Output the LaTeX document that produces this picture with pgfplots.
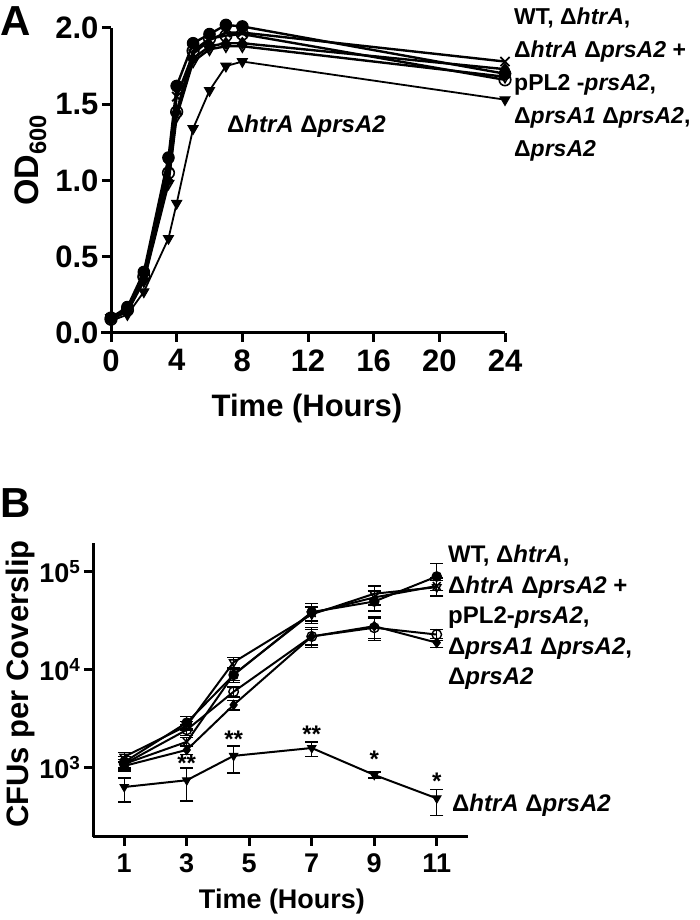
\documentclass[border=0pt]{standalone}
\usepackage{fontspec}
\setmainfont{Liberation Sans}
\usepackage{pgfplots}
\pgfplotsset{compat=1.18}
\newcommand\fsz[1]{\fontsize{#1}{#1}\selectfont\bfseries}
\newcommand\g[1]{\textit{#1}}
\begin{document}
\begin{tikzpicture}[x=1pt,y=1pt]
\path[use as bounding box] (0,0) rectangle (700,920);
% ---------------- Panel A ----------------
\begin{axis}[
 at={(111pt,587pt)}, anchor=south west, scale only axis,
 width=394pt, height=305pt,
 xmin=0, xmax=24, ymin=0, ymax=2,
 axis x line*=bottom, axis y line*=left,
 axis line style={line width=3pt, -},
 xtick={0,4,...,24}, ytick={0,0.5,1,1.5,2},
 yticklabel style={/pgf/number format/.cd, fixed, fixed zerofill, precision=1},
 xticklabel style={yshift=-4pt},
 /pgf/number format/assume math mode=true,
 tick style={line width=3pt, black}, major tick length=9pt, tick align=outside,
 ticklabel style={font=\fsz{31}},
 clip=false,
 every axis plot/.append style={line width=2.4pt, black, mark size=5.8pt},
]
\draw[line width=3pt] (axis cs:-0.6,0) -- (axis cs:0,0);
\addplot[mark=*, mark options={solid, fill=black, line width=1pt}] coordinates {
 (0,0.10) (1,0.17) (2,0.40) (3.5,1.15) (4,1.62) (5,1.90) (6,1.96) (7,2.02) (8,2.01) (24,1.70)};
\addplot[mark=o, mark options={solid, fill=white, line width=1.6pt}] coordinates {
 (0,0.09) (1,0.15) (2,0.37) (3.5,1.05) (4,1.45) (5,1.85) (6,1.93) (7,1.95) (8,1.96) (24,1.66)};
\addplot[mark=x, mark options={solid, line width=1.8pt}, mark size=6.5pt] coordinates {
 (0,0.10) (1,0.16) (2,0.38) (3.5,1.10) (4,1.55) (5,1.83) (6,1.92) (7,1.97) (8,1.97) (24,1.78)};
\addplot[mark=diamond*, mark options={solid, fill=black, line width=1pt}] coordinates {
 (0,0.09) (1,0.14) (2,0.35) (3.5,1.00) (4,1.45) (5,1.80) (6,1.88) (7,1.90) (8,1.90) (24,1.73)};
\addplot[mark=triangle, mark options={solid, fill=white, rotate=180, line width=1.6pt}] coordinates {
 (0,0.10) (1,0.14) (2,0.34) (3.5,0.98) (4,1.42) (5,1.78) (6,1.86) (7,1.88) (8,1.88) (24,1.68)};
\addplot[line width=1.8pt, mark=triangle*, mark options={solid, fill=black, rotate=180, line width=1pt}] coordinates {
 (0,0.08) (1,0.12) (2,0.27) (3.5,0.62) (4,0.85) (5,1.34) (6,1.59) (7,1.75) (8,1.78) (24,1.53)};
\end{axis}
% ---------------- Panel B ----------------
\begin{axis}[
 at={(93pt,83pt)}, anchor=south west, scale only axis,
 width=375pt, height=294pt,
 xmin=0, xmax=12, ymode=log, ymin=197.7, ymax=197700,
 axis x line*=bottom, axis y line*=left,
 axis line style={line width=3pt, -},
 xtick={1,3,5,7,9,11}, ytick={1000,10000,100000},
 yticklabels={10\textsuperscript{3},10\textsuperscript{4},10\textsuperscript{5}},
 yminorticks=false,
 xticklabel style={yshift=-4pt},
 /pgf/number format/assume math mode=true,
 tick style={line width=3pt, black}, major tick length=9pt, tick align=outside,
 ticklabel style={font=\fsz{27}},
 clip=false,
 every axis plot/.append style={line width=2pt, black, mark size=4.8pt},
]
\addplot[mark=*, mark options={solid, fill=black, line width=1pt},
 error bars/.cd, y dir=both, y explicit, error bar style={line width=1.3pt},
 error mark options={rotate=90, mark size=6.5pt, line width=1.3pt}] coordinates {
 (1,1150) +- (0,150) (3,2900) += (0,450) -= (0,400) (4.5,8900) +- (0,1500)
 (7,39000) += (0,9000) -= (0,8000) (9,50000) += (0,15000) -= (0,10000)
 (11,90000) += (0,33000) -= (0,25000)};
\addplot[mark=o, mark options={solid, fill=white, line width=1.4pt},
 error bars/.cd, y dir=both, y explicit, error bar style={line width=1.3pt},
 error mark options={rotate=90, mark size=6.5pt, line width=1.3pt}] coordinates {
 (1,1100) +- (0,120) (3,2450) +- (0,300) (4.5,6000) +- (0,700)
 (7,22000) +- (0,4000) (9,27000) += (0,7000) -= (0,6000) (11,23000) +- (0,3000)};
\addplot[mark=x, mark options={solid, line width=1.5pt}, mark size=5.5pt,
 error bars/.cd, y dir=both, y explicit, error bar style={line width=1.3pt},
 error mark options={rotate=90, mark size=6.5pt, line width=1.3pt}] coordinates {
 (1,1100) +- (0,120) (3,1850) +- (0,200) (4.5,9000) +- (0,1200)
 (7,38000) +- (0,6000) (9,55000) +- (0,9000) (11,72000) +- (0,15000)};
\addplot[mark=diamond*, mark options={solid, fill=black, line width=1pt},
 error bars/.cd, y dir=both, y explicit, error bar style={line width=1.3pt},
 error mark options={rotate=90, mark size=6.5pt, line width=1.3pt}] coordinates {
 (1,1050) +- (0,120) (3,1530) +- (0,150) (4.5,4400) +- (0,500)
 (7,22000) +- (0,5000) (9,28000) += (0,7000) -= (0,8000) (11,19000) +- (0,2000)};
\addplot[mark=triangle, mark options={solid, fill=white, rotate=180, line width=1.4pt},
 error bars/.cd, y dir=both, y explicit, error bar style={line width=1.3pt},
 error mark options={rotate=90, mark size=6.5pt, line width=1.3pt}] coordinates {
 (1,1300) +- (0,150) (3,2700) +- (0,300) (4.5,12000) +- (0,1500)
 (7,37000) +- (0,7000) (9,60000) += (0,12000) -= (0,8000) (11,70000) +- (0,12000)};
\addplot[mark=triangle*, mark options={solid, fill=black, rotate=180, line width=1pt},
 error bars/.cd, y dir=both, y explicit, error bar style={line width=1.3pt},
 error mark options={rotate=90, mark size=6.5pt, line width=1.3pt}] coordinates {
 (1,640) += (0,150) -= (0,190) (3,750) += (0,250) -= (0,290) (4.5,1330) += (0,350) -= (0,440)
 (7,1600) += (0,240) -= (0,300) (9,850) +- (0,60) (11,490) += (0,110) -= (0,160)};
\node[font=\fsz{24}] at (axis cs:3,1120) {**};
\node[font=\fsz{24}] at (axis cs:4.5,1980) {**};
\node[font=\fsz{24}] at (axis cs:7,2220) {**};
\node[font=\fsz{24}] at (axis cs:9,1230) {*};
\node[font=\fsz{24}] at (axis cs:11,735) {*};
\end{axis}
% ---------------- Texts ----------------
\node[anchor=base west, inner sep=0pt] at (0,884) {\fsz{42}A};
\node[anchor=base west, inner sep=0pt] at (0,402) {\fsz{42}B};
\node[rotate=90, anchor=base, inner sep=0pt] at (38,760) {\fsz{34}OD\textsubscript{600}};
\node[anchor=base, inner sep=0pt] at (307,503) {\fsz{31}Time (Hours)};
\node[rotate=90, anchor=base, inner sep=0pt] at (28,236) {\fsz{31}CFUs per Coverslip};
\node[anchor=base, inner sep=0pt] at (282,12) {\fsz{27}Time (Hours)};
% annotations A
\node[anchor=base west, inner sep=0pt] at (227,787) {\fsz{24}Δ\g{htrA} Δ\g{prsA2}};
\node[anchor=base west, inner sep=0pt] at (514,895) {\fsz{23}WT, Δ\g{htrA},};
\node[anchor=base west, inner sep=0pt] at (514,862) {\fsz{23}Δ\g{htrA} Δ\g{prsA2} +};
\node[anchor=base west, inner sep=0pt] at (514,829) {\fsz{23}pPL2 -\g{prsA2},};
\node[anchor=base west, inner sep=0pt] at (514,796) {\fsz{23}Δ\g{prsA1} Δ\g{prsA2},};
\node[anchor=base west, inner sep=0pt] at (514,763) {\fsz{23}Δ\g{prsA2}};
% annotations B
\node[anchor=base west, inner sep=0pt] at (452,108) {\fsz{24}Δ\g{htrA} Δ\g{prsA2}};
\node[anchor=base west, inner sep=0pt] at (448,357) {\fsz{24}WT, Δ\g{htrA},};
\node[anchor=base west, inner sep=0pt] at (448,326.5) {\fsz{24}Δ\g{htrA} Δ\g{prsA2} +};
\node[anchor=base west, inner sep=0pt] at (448,296) {\fsz{24}pPL2-\g{prsA2},};
\node[anchor=base west, inner sep=0pt] at (448,265.5) {\fsz{24}Δ\g{prsA1} Δ\g{prsA2},};
\node[anchor=base west, inner sep=0pt] at (448,235) {\fsz{24}Δ\g{prsA2}};
\end{tikzpicture}
\end{document}
